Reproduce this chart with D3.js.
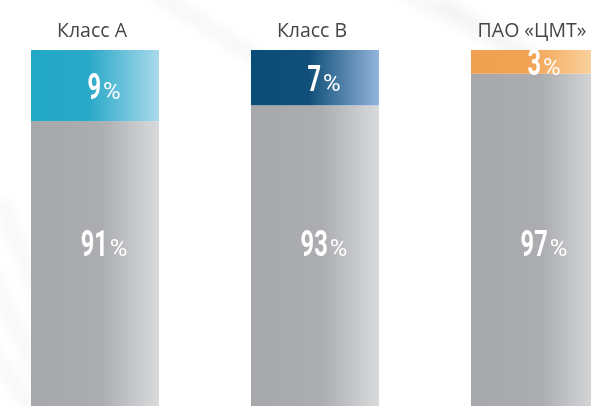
<!DOCTYPE html>
<html>
<head>
<meta charset="utf-8">
<script src="https://cdn.jsdelivr.net/npm/d3@7"></script>
<style>
  html, body { margin: 0; padding: 0; background: #fff; overflow: hidden; }
  svg { display: block; }
</style>
</head>
<body>
<svg id="chart" width="591" height="406"></svg>
<script>
// ---- data ----
const categories = ["Класс А", "Класс В", "ПАО «ЦМТ»"];
const vacantShare = [9, 7, 3];      // top coloured segment, %
const occupiedShare = [91, 93, 97]; // grey segment, %
const topColors = [
  ["#22a8c7", "#29a9c8", "#a9d9ec"],
  ["#0a4d77", "#104f79", "#93b4db"],
  ["#f0a050", "#f1a253", "#fcd7a6"]
];
const greyColors = ["#a7a8ab", "#acadb0", "#d9dadc"];

const svg = d3.select("#chart");
const defs = svg.append("defs");

// faint background streaks
defs.append("filter").attr("id", "blur").append("feGaussianBlur").attr("stdDeviation", 7);
const streaks = [
  [[-20, 250], [60, 420]], [[0, 200], [90, 420]], [[-30, 320], [40, 420]],
  [[150, -10], [260, 60]], [[400, -10], [560, 70]], [[440, 0], [600, 110]]
];
svg.append("g").attr("filter", "url(#blur)")
  .selectAll("line").data(streaks).join("line")
  .attr("x1", d => d[0][0]).attr("y1", d => d[0][1])
  .attr("x2", d => d[1][0]).attr("y2", d => d[1][1])
  .attr("stroke", "#ececec").attr("stroke-width", 10).attr("opacity", 0.6);

// scales
const x = d3.scaleBand().domain(categories).range([31, 599]).paddingInner(0.418).paddingOuter(0);
const pxPerPct = d3.scaleLinear().domain([0, 100]).range([0, 790]);
const top0 = 50;

// gradients
categories.forEach((c, i) => {
  const g = defs.append("linearGradient").attr("id", "top" + i)
    .attr("x1", "0%").attr("x2", "100%").attr("y1", "0%").attr("y2", "0%");
  g.append("stop").attr("offset", "0%").attr("stop-color", topColors[i][0]);
  g.append("stop").attr("offset", "45%").attr("stop-color", topColors[i][1]);
  g.append("stop").attr("offset", "100%").attr("stop-color", topColors[i][2]);
});
const gg = defs.append("linearGradient").attr("id", "grey")
  .attr("x1", "0%").attr("x2", "100%").attr("y1", "0%").attr("y2", "0%");
gg.append("stop").attr("offset", "0%").attr("stop-color", greyColors[0]);
gg.append("stop").attr("offset", "55%").attr("stop-color", greyColors[1]);
gg.append("stop").attr("offset", "100%").attr("stop-color", greyColors[2]);

const rows = categories.map((c, i) => ({ c, i, v: vacantShare[i], o: occupiedShare[i] }));

// grey segments
svg.selectAll("rect.grey").data(rows).join("rect").attr("class", "grey")
  .attr("x", d => x(d.c)).attr("width", x.bandwidth())
  .attr("y", d => top0 + pxPerPct(d.v))
  .attr("height", d => pxPerPct(d.o))
  .attr("fill", "url(#grey)");

// coloured segments
svg.selectAll("rect.top").data(rows).join("rect").attr("class", "top")
  .attr("x", d => x(d.c)).attr("width", x.bandwidth())
  .attr("y", top0)
  .attr("height", d => pxPerPct(d.v))
  .attr("fill", d => `url(#top${d.i})`);

// category labels
svg.selectAll("text.cat").data(rows).join("text").attr("class", "cat")
  .attr("x", d => x(d.c) + x.bandwidth() / 2 - 3)
  .attr("y", 36.5)
  .attr("text-anchor", "middle")
  .attr("font-family", "Open Sans")
  .attr("font-size", 19.5)
  .attr("fill", "#454545")
  .text(d => d.c);

// percentage labels: condensed bold digits + lighter percent sign
const squeeze = 0.64;
function pctLabel(g) {
  g.each(function (d) {
    const grp = d3.select(this);
    const num = grp.append("text")
      .attr("font-family", "Roboto").attr("font-weight", "bold")
      .attr("font-size", 37).attr("fill", "#fff")
      .text(d.val);
    const numW = num.node().getComputedTextLength() * squeeze;
    const pct = grp.append("text")
      .attr("font-family", "Roboto").attr("font-size", 24).attr("fill", "#fff")
      .text("%");
    const pctW = pct.node().getComputedTextLength();
    const gap = 2;
    const total = numW + gap + pctW;
    num.attr("transform", `translate(${-total / 2},0) scale(${squeeze},1)`);
    pct.attr("x", -total / 2 + numW + gap);
  });
}

svg.selectAll("g.tl").data(rows.map(d => ({ ...d, val: d.v }))).join("g").attr("class", "tl")
  .attr("transform", d => `translate(${x(d.c) + x.bandwidth() / 2 + 9},${top0 + pxPerPct(d.v) / 2 + 13.5})`)
  .call(pctLabel);

svg.selectAll("g.gl").data(rows.map(d => ({ ...d, val: d.o }))).join("g").attr("class", "gl")
  .attr("transform", d => `translate(${x(d.c) + x.bandwidth() / 2 + 9},256)`)
  .call(pctLabel);
</script>
</body>
</html>
